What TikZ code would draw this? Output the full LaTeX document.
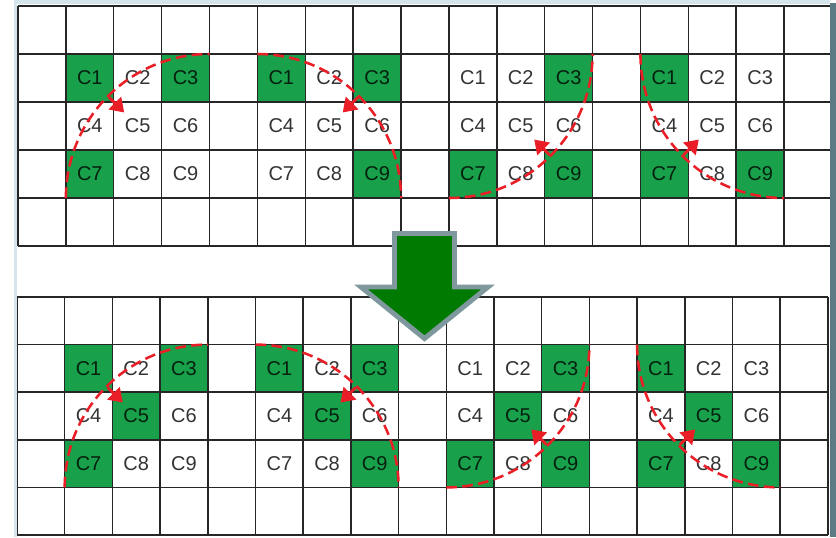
\documentclass[tikz,border=0pt]{standalone}
\usepackage{fontspec}
\setmainfont{Liberation Sans}
\usetikzlibrary{arrows.meta,calc}
\definecolor{cellgreen}{RGB}{24,160,74}
\definecolor{arcred}{RGB}{234,30,38}
\definecolor{bigarrowgreen}{RGB}{0,122,0}
\definecolor{bigarrowedge}{RGB}{126,152,157}
\definecolor{frameblue}{RGB}{212,230,236}
\definecolor{framedark}{RGB}{92,122,132}
\tikzset{
  gridline/.style={draw=black!85, line width=1.1pt},
  celltext/.style={font=\fontsize{15}{17}\selectfont, text=black, text opacity=0.8, inner sep=0pt},
  arcline/.style={draw=arcred, line width=1.9pt, dash pattern=on 8pt off 4pt},
  arcpointer/.style={draw=arcred, line width=2.2pt, -{Triangle[length=10pt,width=13pt]}},
  bigarrow/.style={draw=bigarrowedge, fill=bigarrowgreen, line width=3.7pt, line join=miter}
}
% #1 name, #2 x0, #3 y0, #4 w, #5 h, #6 panel index, #7 green cells
\newcommand\mypanel[7]{%
  \foreach \k in {#7}{%
    \pgfmathsetmacro\pcc{4*#6+1+mod(\k-1,3)}%
    \pgfmathsetmacro\prr{1+div(\k-1,3)}%
    \fill[cellgreen] ({#2+\pcc*#4},{-#3-\prr*#5}) rectangle ({#2+(\pcc+1)*#4},{-#3-(\prr+1)*#5});
  }%
  \foreach \k in {1,...,9}{%
    \pgfmathsetmacro\pcc{4*#6+1+mod(\k-1,3)}%
    \pgfmathsetmacro\prr{1+div(\k-1,3)}%
    \node[celltext] (#1-\k) at ({#2+(\pcc+0.5)*#4},{-#3-(\prr+0.5)*#5}) {C\k};
  }%
}
% #1 x0, #2 y0, #3 w, #4 h
\newcommand\mygrid[4]{%
  \foreach \i in {0,...,17}{\draw[gridline] ({#1+\i*#3},{-#2}) -- ({#1+\i*#3},{-#2-5*#4});}%
  \foreach \j in {0,...,5}{\draw[gridline] ({#1-0.5},{-#2-\j*#4}) -- ({#1+17*#3+0.5},{-#2-\j*#4});}%
}
% #1 x0, #2 y0, #3 w, #4 h, #5 panel index = arc type
\newcommand\rotarc[5]{%
  \pgfmathsetmacro\arcX{#1+(4*#5+1)*#3}%
  \pgfmathsetmacro\arcY{#2+#4}%
  \ifcase#5 \def\arcCx{3}\def\arcCy{3}\def\arcS{180}\def\arcE{90}\def\arcM{135}%
  \or \def\arcCx{0}\def\arcCy{3}\def\arcS{90}\def\arcE{0}\def\arcM{45}%
  \or \def\arcCx{0}\def\arcCy{0}\def\arcS{270}\def\arcE{360}\def\arcM{315}%
  \or \def\arcCx{3}\def\arcCy{0}\def\arcS{180}\def\arcE{270}\def\arcM{225}%
  \fi
  \pgfmathsetmacro\arcPx{\arcX+\arcCx*#3}%
  \pgfmathsetmacro\arcPy{-(\arcY+\arcCy*#4)}%
  \pgfmathsetmacro\arcRx{3*#3}%
  \pgfmathsetmacro\arcRy{3*#4}%
  \pgfmathsetmacro\arcRxpt{\arcRx*0.75}%
  \pgfmathsetmacro\arcRypt{\arcRy*0.75}%
  \pgfmathsetmacro\arcSx{\arcPx+\arcRx*cos(\arcS)}%
  \pgfmathsetmacro\arcSy{\arcPy+\arcRy*sin(\arcS)}%
  \pgfmathsetmacro\arcMx{\arcPx+0.99*\arcRx*cos(\arcM)}%
  \pgfmathsetmacro\arcMy{\arcPy+0.99*\arcRy*sin(\arcM)}%
  \pgfmathsetmacro\arcIx{\arcPx+0.84*\arcRx*cos(\arcM)}%
  \pgfmathsetmacro\arcIy{\arcPy+0.84*\arcRy*sin(\arcM)}%
  \draw[arcline] (\arcSx,\arcSy) arc[start angle=\arcS, end angle=\arcE, x radius=\arcRxpt pt, y radius=\arcRypt pt];
  \coordinate (arcmid) at (\arcMx,\arcMy);
  \coordinate (arcin) at (\arcIx,\arcIy);
  \draw[arcpointer] (arcmid) -- (arcin);
}
\begin{document}
\begin{tikzpicture}[x=0.75pt,y=0.75pt]
\useasboundingbox (0,0) rectangle (836,-537);
\fill[white] (0,0) rectangle (836,-537);
% top grid
\mypanel{t0}{18}{6}{47.88}{48}{0}{1,3,7}
\mypanel{t1}{18}{6}{47.88}{48}{1}{1,3,9}
\mypanel{t2}{18}{6}{47.88}{48}{2}{3,7,9}
\mypanel{t3}{18}{6}{47.88}{48}{3}{1,7,9}
\mygrid{18}{6}{47.88}{48}
% bottom grid
\mypanel{b0}{17}{297}{47.7}{47.6}{0}{1,3,5,7}
\mypanel{b1}{17}{297}{47.7}{47.6}{1}{1,3,5,9}
\mypanel{b2}{17}{297}{47.7}{47.6}{2}{3,5,7,9}
\mypanel{b3}{17}{297}{47.7}{47.6}{3}{1,5,7,9}
\mygrid{17}{297}{47.7}{47.6}
% rotation arcs
\rotarc{18}{6}{47.88}{48}{0}
\rotarc{18}{6}{47.88}{48}{1}
\rotarc{18}{6}{47.88}{48}{2}
\rotarc{18}{6}{47.88}{48}{3}
\rotarc{17}{297}{47.7}{47.6}{0}
\rotarc{17}{297}{47.7}{47.6}{1}
\rotarc{17}{297}{47.7}{47.6}{2}
\rotarc{17}{297}{47.7}{47.6}{3}
% big arrow
\draw[bigarrow] (394.5,-233.5) -- (454.5,-233.5) -- (454.5,-287) -- (488,-287)
  -- (424.5,-338.5) -- (361,-287) -- (394.5,-287) -- cycle;
% frame
\fill[frameblue] (14,0) rectangle (17,-537);
\fill[frameblue] (14,0) rectangle (830,-4);
\fill[framedark] (830,-3) rectangle (836,-537);
\end{tikzpicture}
\end{document}
